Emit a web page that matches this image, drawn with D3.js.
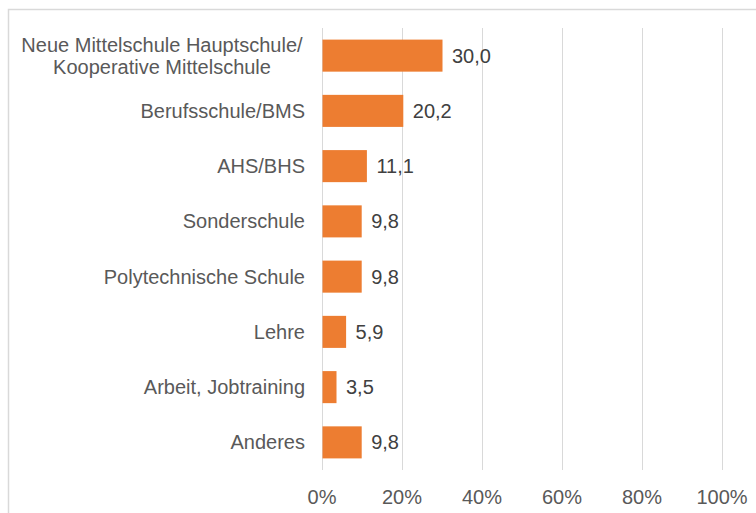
<!DOCTYPE html>
<html>
<head>
<meta charset="utf-8">
<script src="https://cdn.jsdelivr.net/npm/d3@7"></script>
<style>
  html, body { margin: 0; padding: 0; background: #fff; }
  svg { display: block; font-family: "Liberation Sans", Arial, sans-serif; }
</style>
</head>
<body>
<div id="chart"></div>
<script>
// categories and values (percent)
const categories = [
  ["Neue Mittelschule Hauptschule/", "Kooperative Mittelschule"],
  ["Berufsschule/BMS"],
  ["AHS/BHS"],
  ["Sonderschule"],
  ["Polytechnische Schule"],
  ["Lehre"],
  ["Arbeit, Jobtraining"],
  ["Anderes"]
];
const values = [30.0, 20.2, 11.1, 9.8, 9.8, 5.9, 3.5, 9.8];
const ticks = [0, 20, 40, 60, 80, 100];

const width = 756, height = 513;
const margin = { top: 28, left: 322, right: 34, bottom: 43 };

const svg = d3.select("#chart").append("svg")
    .attr("width", width)
    .attr("height", height);

// chart frame
svg.append("rect")
    .attr("x", 8.5).attr("y", 9.5)
    .attr("width", width + 20).attr("height", height + 20)
    .attr("fill", "none")
    .attr("stroke", "#d9d9d9")
    .attr("stroke-width", 1.5);

const x = d3.scaleLinear().domain([0, 100]).range([margin.left, width - margin.right]);
const y = d3.scaleBand()
    .domain(d3.range(categories.length))
    .range([margin.top, height - margin.bottom])
    .paddingInner(0.42)
    .paddingOuter(0.21);

// grid lines
svg.append("g").selectAll("line")
    .data(ticks)
    .enter().append("line")
    .attr("x1", d => Math.round(x(d)) + 0.5)
    .attr("x2", d => Math.round(x(d)) + 0.5)
    .attr("y1", margin.top)
    .attr("y2", height - margin.bottom)
    .attr("stroke", "#d9d9d9")
    .attr("stroke-width", 1);

// x tick labels
svg.append("g").selectAll("text")
    .data(ticks)
    .enter().append("text")
    .attr("x", d => x(d))
    .attr("y", 504)
    .attr("text-anchor", "middle")
    .attr("fill", "#595959")
    .style("font-size", "20px")
    .text(d => d + "%");

// bars
svg.append("g").selectAll("rect")
    .data(values)
    .enter().append("rect")
    .attr("x", x(0) + 0.5)
    .attr("y", (d, i) => y(i))
    .attr("width", d => x(d) - x(0))
    .attr("height", y.bandwidth())
    .attr("fill", "#ed7d31");

// value labels
svg.append("g").selectAll("text")
    .data(values)
    .enter().append("text")
    .attr("x", d => x(d) + 10)
    .attr("y", (d, i) => y(i) + y.bandwidth() / 2)
    .attr("dy", "0.35em")
    .attr("fill", "#404040")
    .style("font-size", "20px")
    .text(d => d3.format(".1f")(d).replace(".", ","));

// category labels
const cat = svg.append("g").selectAll("text")
    .data(categories)
    .enter().append("text")
    .attr("x", 305)
    .attr("y", (d, i) => y(i) + y.bandwidth() / 2)
    .attr("text-anchor", "end")
    .attr("fill", "#595959")
    .style("font-size", "20px");

cat.each(function(lines) {
    const t = d3.select(this);
    const n = lines.length;
    lines.forEach((line, k) => {
        t.append("tspan")
            .attr("x", n > 1 ? 162 : 305)
            .attr("text-anchor", n > 1 ? "middle" : "end")
            .attr("dy", k === 0 ? (0.35 - (n - 1) * 0.55) + "em" : "1.1em")
            .text(line);
    });
});
</script>
</body>
</html>
